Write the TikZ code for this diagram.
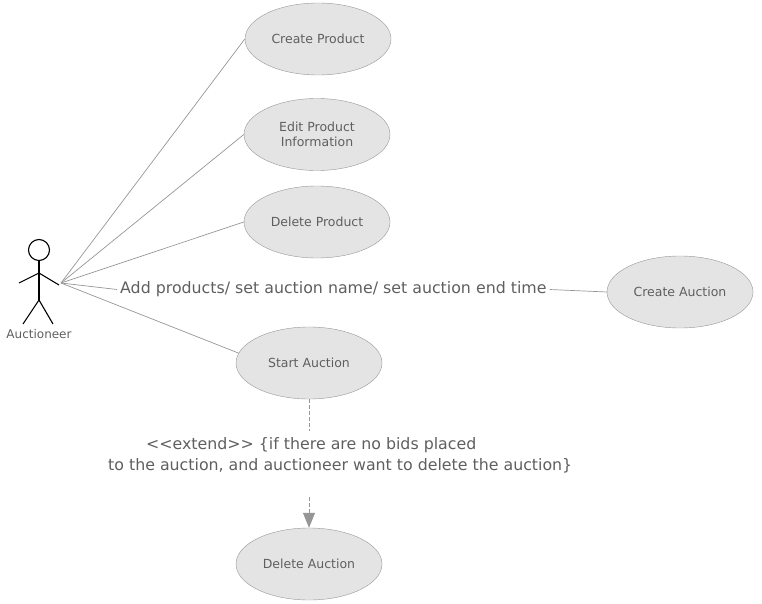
\documentclass[tikz,border=0pt]{standalone}
\usepackage{fontspec}
\setmainfont{DejaVu Sans}
\usetikzlibrary{shapes.geometric,arrows.meta}
\definecolor{usefill}{RGB}{228,228,228}
\definecolor{usetext}{RGB}{95,95,95}
\definecolor{useline}{RGB}{150,150,150}
\tikzset{
    usecase/.style={ellipse, draw=useline, fill=usefill, text=usetext, minimum width=146pt, minimum height=72pt, inner sep=0pt, align=center, font=\fontsize{12.5}{15}\selectfont},
    assoc/.style={draw=useline, line width=0.7pt},
    stick/.style={draw=black, line width=1.1pt},
    lbl/.style={text=usetext, inner ysep=0pt, inner xsep=3pt, font=\fontsize{15.8}{21}\selectfont}
}
\begin{document}
\begin{tikzpicture}[x=1pt,y=-1pt]
        \useasboundingbox (0, 0) rectangle (762, 604);

        \node[usecase] (cp) at (318, 39) {Create Product};
        \node[usecase] (ep) at (317, 134.5) {Edit Product\\Information};
        \node[usecase] (dp) at (317, 222) {Delete Product};
        \node[usecase] (ca) at (680, 292) {Create Auction};
        \node[usecase] (sa) at (309, 363) {Start Auction};
        \node[usecase] (da) at (309, 564) {Delete Auction};

        % actor
        \node[circle, stick, minimum size=21pt, inner sep=0pt] (head) at (39, 250) {};
        \coordinate (neck) at (39, 273);
        \coordinate (hip) at (39, 300);
        \coordinate (handl) at (19, 283);
        \coordinate (handr) at (59, 285);
        \coordinate (footl) at (23, 324);
        \coordinate (footr) at (53, 324);
        \draw[stick] (head) -- (hip);
        \draw[stick] (handl) -- (neck) -- (handr);
        \draw[stick] (footl) -- (hip) -- (footr);
        \node[text=usetext, inner sep=0pt, font=\fontsize{12}{14}\selectfont] (actor) at (39, 334) {Auctioneer};

        \coordinate (assoc) at (61, 283);
        \node[lbl, anchor=west] (add) at (117, 289.5) {Add products/ set auction name/ set auction end time};
        \node[lbl, anchor=north west, align=left] (ext) at (105, 437) {\hspace*{38pt}<{}<extend>{}> \{if there are no bids placed\\to the auction, and auctioneer want to delete the auction\}};
        \coordinate (extin) at ([yshift=6pt]sa |- ext.north);
        \coordinate (extout) at ([yshift=-24pt]sa |- ext.south);

        \draw[assoc] (assoc) -- (cp.west);
        \draw[assoc] (assoc) -- (ep.west);
        \draw[assoc] (assoc) -- (dp.west);
        \draw[assoc] (assoc) -- (sa.172);
        \draw[assoc] (assoc) -- (add.west);
        \draw[assoc] (add.east) -- (ca.west);
        \draw[assoc, dash pattern=on 4pt off 2pt] (sa) -- (extin);
        \draw[assoc, dash pattern=on 4pt off 2pt, -{Triangle[length=15pt,width=12pt]}] (extout) -- (da);

    \end{tikzpicture}
\end{document}
